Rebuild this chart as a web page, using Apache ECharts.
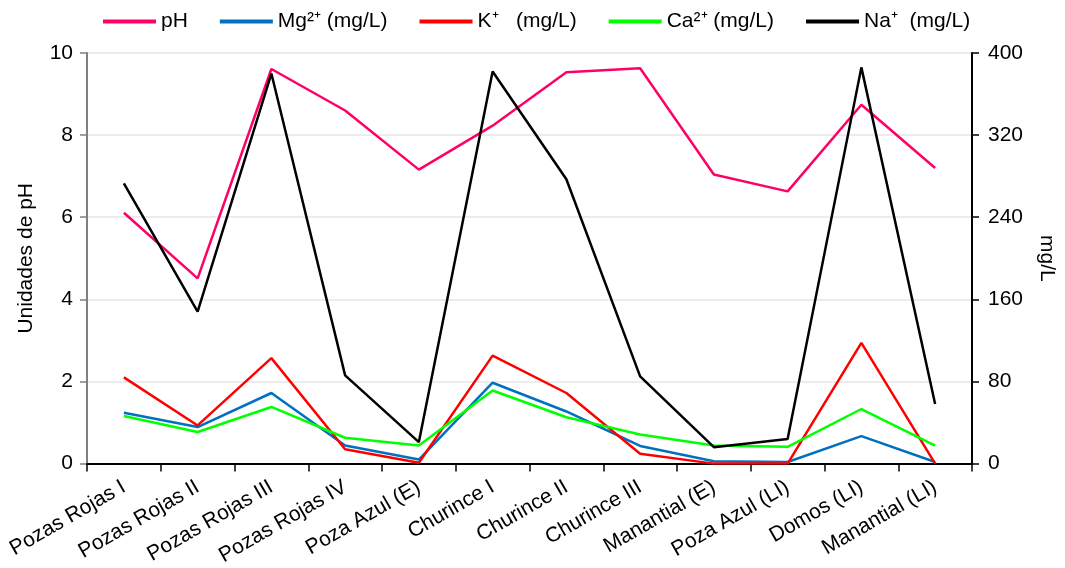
<!DOCTYPE html>
<html>
<head>
<meta charset="utf-8">
<script src="https://cdn.jsdelivr.net/npm/echarts@6/dist/echarts.min.js"></script>
<style>html,body{margin:0;padding:0;background:#fff;overflow:hidden}#c{width:1065px;height:568px}</style>
</head>
<body>
<div id="c"></div>
<script>
const categories = ['Pozas Rojas I','Pozas Rojas II','Pozas Rojas III','Pozas Rojas IV','Poza Azul (E)','Churince I','Churince II','Churince III','Manantial (E)','Poza Azul (LI)','Domos (LI)','Manantial (LI)'];
const pH = [6.11, 4.51, 9.61, 8.60, 7.16, 8.23, 9.53, 9.63, 7.04, 6.63, 8.74, 7.20];
const mg = [1.24, 0.89, 1.72, 0.44, 0.10, 1.97, 1.27, 0.43, 0.06, 0.04, 0.67, 0.04];
const k  = [2.10, 0.93, 2.57, 0.35, 0.02, 2.63, 1.72, 0.24, 0.00, 0.00, 2.94, 0.00];
const ca = [1.16, 0.77, 1.38, 0.63, 0.44, 1.78, 1.13, 0.71, 0.44, 0.41, 1.33, 0.44];
const na = [273, 148, 380, 86, 21, 382, 277, 85, 16, 24, 386, 58];
const leftTicks = [0, 2, 4, 6, 8, 10];
const rightTicks = [0, 80, 160, 240, 320, 400];

const FONT = '"Liberation Sans", Arial, sans-serif';
const FS = 21;

const chart = echarts.init(document.getElementById('c'), null, {renderer: 'canvas'});
function mkSeries(name, data, color, yIdx) {
  return {name, type: 'line', data, yAxisIndex: yIdx, symbol: 'none', smooth: false,
    lineStyle: {color, width: 2.5}, itemStyle: {color}, z: 3};
}
const ICON = 'path://M0,0h14v1h-14z';
chart.setOption({
  animation: false,
  textStyle: {fontFamily: FONT},
  legend: {
    top: 6, left: 98, itemWidth: 53, itemHeight: 14, itemGap: 32,
    textStyle: {fontFamily: FONT, fontSize: FS, color: '#000'},
    data: [
      {name: 'pH', icon: ICON},
      {name: 'Mg²⁺ (mg/L)', icon: ICON},
      {name: 'K⁺   (mg/L)', icon: ICON},
      {name: 'Ca²⁺ (mg/L)', icon: ICON},
      {name: 'Na⁺  (mg/L)', icon: ICON}
    ]
  },
  grid: {left: 87, right: 90, top: 53, bottom: 103, containLabel: false},
  xAxis: {
    type: 'category', data: categories, boundaryGap: true,
    axisLine: {lineStyle: {color: '#000', width: 2}},
    axisTick: {show: true, length: 8, lineStyle: {color: '#000', width: 1.5}},
    axisLabel: {rotate: 30, fontSize: FS, color: '#000', fontFamily: FONT, margin: 22, interval: 0}
  },
  yAxis: [
    {
      type: 'value', min: leftTicks[0], max: leftTicks[leftTicks.length-1], interval: 2,
      name: 'Unidades de pH', nameLocation: 'middle', nameGap: 50, nameRotate: 90,
      nameTextStyle: {fontSize: FS, color: '#000', fontFamily: FONT},
      axisLine: {show: true, lineStyle: {color: '#808080', width: 2}},
      axisTick: {show: true, length: 7, lineStyle: {color: '#808080', width: 1.5}},
      axisLabel: {fontSize: FS, color: '#000', fontFamily: FONT, margin: 14},
      splitLine: {show: true, lineStyle: {color: '#e6e6e6', width: 1.5}}
    },
    {
      type: 'value', position: 'right', min: rightTicks[0], max: rightTicks[rightTicks.length-1], interval: 80,
      name: 'mg/L', nameLocation: 'middle', nameGap: 64, nameRotate: -90,
      nameTextStyle: {fontSize: FS, color: '#000', fontFamily: FONT},
      axisLine: {show: true, lineStyle: {color: '#000', width: 2}},
      axisTick: {show: true, length: 7, lineStyle: {color: '#000', width: 1.5}},
      axisLabel: {fontSize: FS, color: '#000', fontFamily: FONT, margin: 16},
      splitLine: {show: false}
    }
  ],
  series: [
    mkSeries('pH', pH, '#FF0066', 0),
    mkSeries('Mg²⁺ (mg/L)', mg, '#0070C0', 0),
    mkSeries('K⁺   (mg/L)', k, '#FF0000', 0),
    mkSeries('Ca²⁺ (mg/L)', ca, '#00FF00', 0),
    mkSeries('Na⁺  (mg/L)', na, '#000000', 1)
  ]
});
</script>
</body>
</html>
